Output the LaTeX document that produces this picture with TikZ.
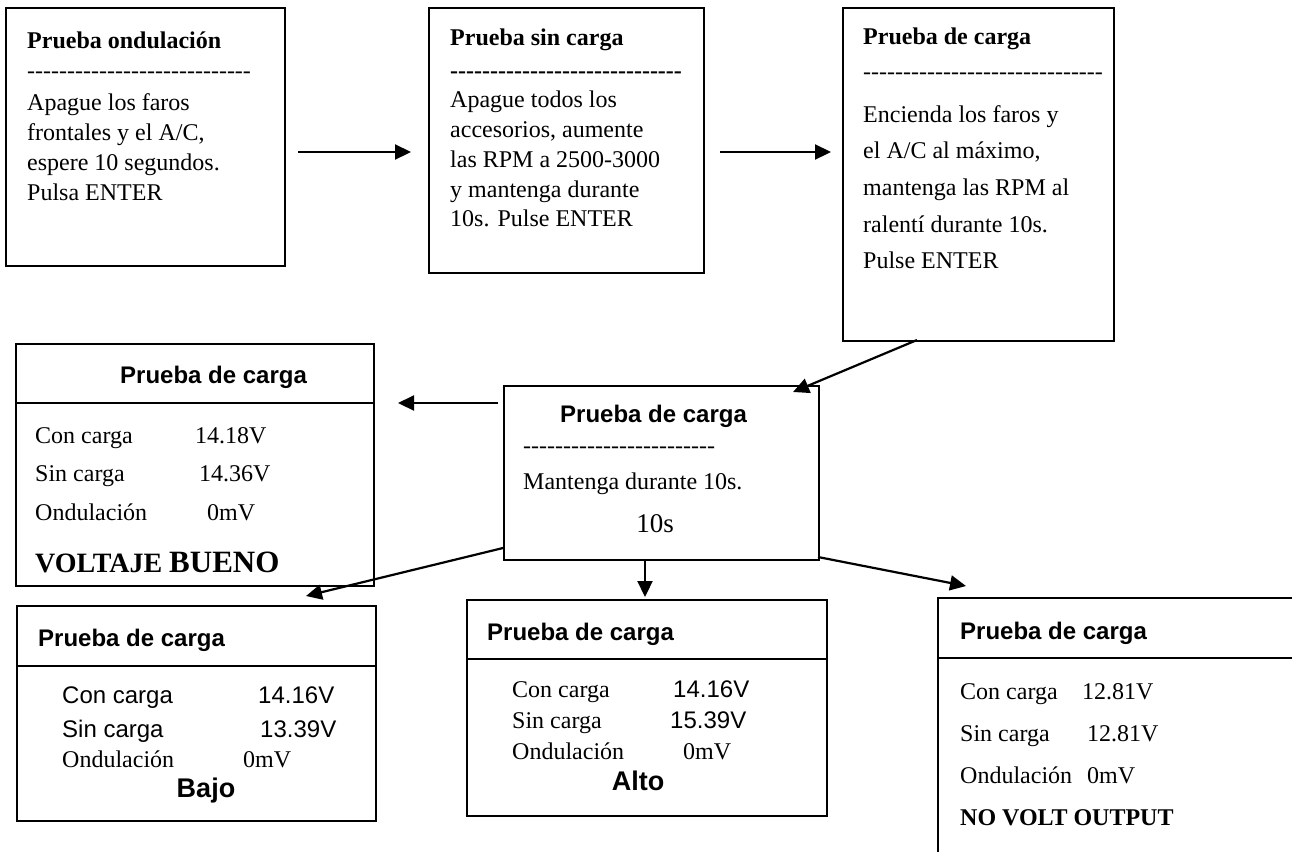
\documentclass[tikz,border=0pt]{standalone}
\usepackage{fontspec}
\setmainfont{Liberation Serif}[Ligatures=TeXOff]
\setsansfont{Liberation Sans}
\usetikzlibrary{arrows.meta}
\ExplSyntaxOn
\NewDocumentCommand\hyphens{m}{\prg_replicate:nn{#1}{-}}
\ExplSyntaxOff

\begin{document}
\begin{tikzpicture}[x=1pt,y=-1pt,
  frame/.style={draw, line width=2pt},
  box/.style={frame, rectangle, anchor=north west, inner sep=0pt},
  txt/.style={anchor=base west, inner sep=0pt, font=\fontsize{24}{30}\selectfont},
  ttl/.style={txt, font=\fontsize{24}{30}\selectfont\bfseries},
  sttl/.style={txt, font=\fontsize{24}{30}\selectfont\sffamily\bfseries},
  stxt/.style={txt, font=\fontsize{24}{30}\selectfont\sffamily},
  verdict/.style={anchor=base, inner sep=0pt, font=\fontsize{27}{30}\selectfont\sffamily\bfseries},
  link/.style={line width=2.2pt, -{Triangle[length=16pt,width=15pt]}}]
\useasboundingbox (0,0) rectangle (1292,852);

% ---- top row: instruction screens ----
\node[box, minimum width=279pt, minimum height=258pt] (b1) at (5,7) {};
\node[ttl] (b1t) at (27,48) {Prueba ondulación};
\node[txt] (b1d) at (27,78) {\hyphens{28}};
\node[txt] (b1l1) at (27,110) {Apague los faros};
\node[txt] (b1l2) at (27,140) {frontales y el A/C,};
\node[txt] (b1l3) at (27,170) {espere 10 segundos.};
\node[txt] (b1l4) at (27,200) {Pulsa ENTER};

\node[box, minimum width=275pt, minimum height=265pt] (b2) at (428,7) {};
\node[ttl] (b2t) at (450,45) {Prueba sin carga};
\node[ttl] (b2d) at (450,78) {\hyphens{29}};
\node[txt] (b2l1) at (450,107) {Apague todos los};
\node[txt] (b2l2) at (450,137) {accesorios, aumente};
\node[txt] (b2l3) at (450,167) {las RPM a 2500-3000};
\node[txt] (b2l4) at (450,197) {y mantenga durante};
\node[txt] (b2l5) at (450,226) {10s. Pulse ENTER};

\node[box, minimum width=271pt, minimum height=333pt] (b3) at (842,7) {};
\node[ttl] (b3t) at (863,44) {Prueba de carga};
\node[txt] (b3d) at (863,79) {\hyphens{30}};
\node[txt] (b3l1) at (863,122) {Encienda los faros y};
\node[txt] (b3l2) at (863,158) {el A/C al máximo,};
\node[txt] (b3l3) at (863,195) {mantenga las RPM al};
\node[txt] (b3l4) at (863,232) {ralentí durante 10s.};
\node[txt] (b3l5) at (863,268) {Pulse ENTER};

% ---- middle row ----
\node[box, minimum width=358pt, minimum height=242pt] (b4) at (15,343) {};
\draw[frame] ([yshift=-60pt]b4.north west) -- ([yshift=-60pt]b4.north east);
\node[sttl] (b4t) at (120,383) {Prueba de carga};
\node[txt] (b4a) at (35,443) {Con carga};
\node[txt] (b4av) at (195,443) {14.18V};
\node[txt] (b4b) at (35,481) {Sin carga};
\node[txt] (b4bv) at (199,481) {14.36V};
\node[txt] (b4c) at (35,520) {Ondulación};
\node[txt] (b4cv) at (207,520) {0mV};
\node[txt, font=\fontsize{28}{30}\selectfont\bfseries] (b4r) at (35,572)
  {VOLTAJE {\fontsize{31}{30}\selectfont BUENO}};

\node[box, minimum width=315pt, minimum height=174pt] (b5) at (503,385) {};
\node[sttl] (b5t) at (560,422) {Prueba de carga};
\node[txt] (b5d) at (523,453) {\hyphens{24}};
\node[txt] (b5l1) at (523,489) {Mantenga durante 10s.};
\node[anchor=base, inner sep=0pt, font=\fontsize{27}{30}\selectfont] (b5n) at (655,532) {10s};

% ---- bottom row: results ----
\node[box, minimum width=359pt, minimum height=215pt] (b6) at (16,605) {};
\draw[frame] ([yshift=-61pt]b6.north west) -- ([yshift=-61pt]b6.north east);
\node[sttl] (b6t) at (38,646) {Prueba de carga};
\node[stxt] (b6a) at (62,703) {Con carga};
\node[stxt] (b6av) at (258,703) {14.16V};
\node[stxt] (b6b) at (62,737) {Sin carga};
\node[stxt] (b6bv) at (260,737) {13.39V};
\node[txt] (b6c) at (62,767) {Ondulación};
\node[txt] (b6cv) at (243,767) {0mV};
\node[verdict] (b6r) at (206,797) {Bajo};

\node[box, minimum width=360pt, minimum height=216pt] (b7) at (466,599) {};
\draw[frame] ([yshift=-60pt]b7.north west) -- ([yshift=-60pt]b7.north east);
\node[sttl] (b7t) at (487,640) {Prueba de carga};
\node[txt] (b7a) at (512,697) {Con carga};
\node[stxt] (b7av) at (673,697) {14.16V};
\node[txt] (b7b) at (512,728) {Sin carga};
\node[stxt] (b7bv) at (670,728) {15.39V};
\node[txt] (b7c) at (512,759) {Ondulación};
\node[txt] (b7cv) at (683,759) {0mV};
\node[verdict] (b7r) at (638,790) {Alto};

% open frame running off the right and bottom edges
\coordinate (b8nw) at (938,598);
\draw[frame] (938,852) -- (b8nw) -- (1292,598);
\draw[frame] (938,658) -- (1292,658);
\node[sttl] (b8t) at (960,639) {Prueba de carga};
\node[txt] (b8a) at (960,699) {Con carga};
\node[txt] (b8av) at (1082,699) {12.81V};
\node[txt] (b8b) at (960,741) {Sin carga};
\node[txt] (b8bv) at (1087,741) {12.81V};
\node[txt] (b8c) at (960,783) {Ondulación};
\node[txt] (b8cv) at (1087,783) {0mV};
\node[ttl] (b8r) at (960,825) {NO VOLT OUTPUT};

% ---- connectors ----
\coordinate (a1s) at (298,152);  \coordinate (a1e) at (411,152);
\coordinate (a2s) at (720,152);  \coordinate (a2e) at (831,152);
\coordinate (a3s) at (917,340);  \coordinate (a3e) at (793,392);
\coordinate (a4s) at (498,403);  \coordinate (a4e) at (398,403);
\coordinate (a5s) at (503,548);  \coordinate (a5e) at (306,596);
\coordinate (a6s) at (645,559);  \coordinate (a6e) at (645,597);
\coordinate (a7s) at (818,557);  \coordinate (a7e) at (966,586);

\draw[link] (a1s) -- (a1e);
\draw[link] (a2s) -- (a2e);
\draw[link] (a3s) -- (a3e);
\draw[link] (a4s) -- (a4e);
\draw[link] (a5s) -- (a5e);
\draw[link] (a6s) -- (a6e);
\draw[link] (a7s) -- (a7e);
\end{tikzpicture}
\end{document}
